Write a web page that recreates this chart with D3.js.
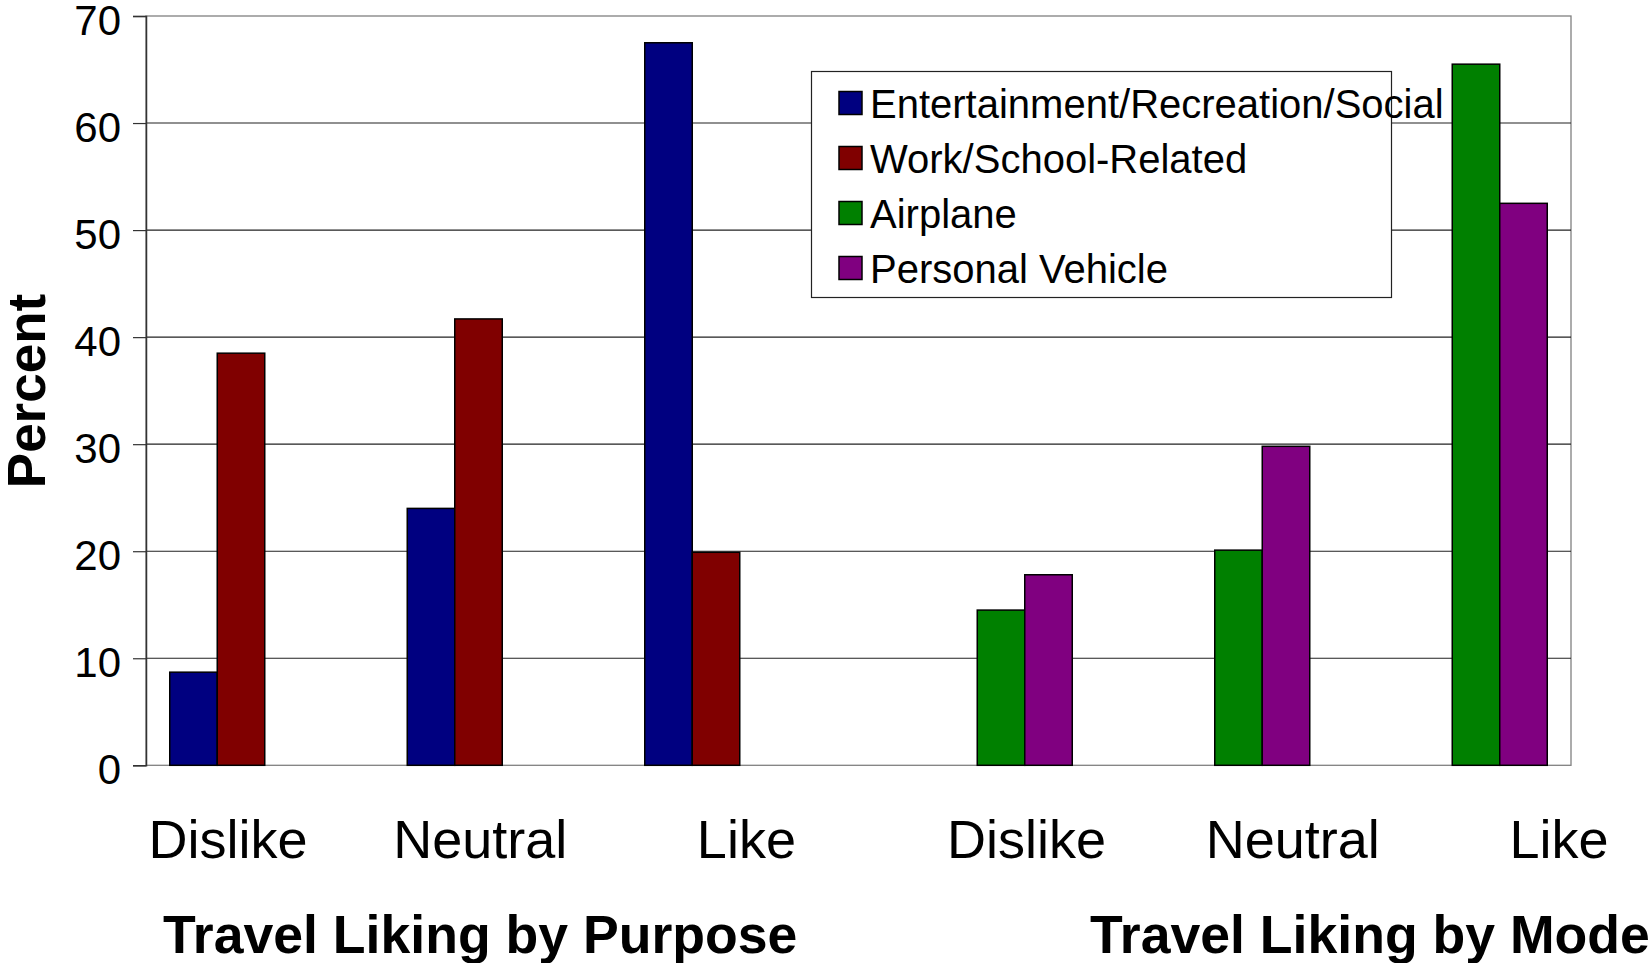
<!DOCTYPE html>
<html>
<head>
<meta charset="utf-8">
<script src="https://cdn.jsdelivr.net/npm/d3@7"></script>
<style>
  html, body { margin: 0; padding: 0; background: #fff; }
  svg { display: block; font-family: "Liberation Sans", Arial, Helvetica, sans-serif; }
</style>
</head>
<body>
<svg id="chart" width="1650" height="963"></svg>
<script>
// ---- data ----
const categories = ["Dislike", "Neutral", "Like", "Dislike", "Neutral", "Like"];
const seriesNames = ["Entertainment/Recreation/Social", "Work/School-Related", "Airplane", "Personal Vehicle"];
const entertainment = [8.7, 24.0, 67.5, null, null, null];
const workSchool = [38.5, 41.7, 19.9, null, null, null];
const airplane = [null, null, null, 14.5, 20.1, 65.5];
const personalVehicle = [null, null, null, 17.8, 29.8, 52.5];
const seriesColors = ["#000080", "#800000", "#008000", "#800080"];
const yTicks = [0, 10, 20, 30, 40, 50, 60, 70];
const groupTitles = ["Travel Liking by Purpose", "Travel Liking by Mode"];
const yTitle = "Percent";

// ---- layout ----
const svg = d3.select("#chart");
const plot = { left: 146, right: 1571, top: 16, bottom: 765.3 };
const seriesValues = [entertainment, workSchool, airplane, personalVehicle];
const labelNudge = [0, -14, -14, 0, 0, 0];

const x = d3.scaleBand().domain(d3.range(categories.length)).range([plot.left, plot.right]).padding(0);
const xs = d3.scaleBand().domain(d3.range(seriesNames.length)).range([0, x.bandwidth()])
  .paddingInner(0).paddingOuter(0.5);
const y = d3.scaleLinear().domain([0, 70]).range([plot.bottom, plot.top]);

// plot frame
svg.append("rect")
  .attr("x", plot.left).attr("y", plot.top)
  .attr("width", plot.right - plot.left).attr("height", plot.bottom - plot.top)
  .attr("fill", "#fff").attr("stroke", "#808080").attr("stroke-width", 1.3);

// gridlines
svg.append("g").selectAll("line").data(yTicks.filter(t => t > 0 && t < 70)).join("line")
  .attr("x1", plot.left).attr("x2", plot.right)
  .attr("y1", d => y(d)).attr("y2", d => y(d))
  .attr("stroke", "#222").attr("stroke-width", 1.1);

// y axis
const yAxis = d3.axisLeft(y).tickValues(yTicks).tickSize(13).tickPadding(12).tickFormat(d3.format("d"));
const gy = svg.append("g").attr("transform", `translate(${plot.left},0)`).call(yAxis);
gy.select(".domain").attr("stroke", "#333").attr("stroke-width", 1.5);
gy.selectAll(".tick line").attr("stroke", "#333").attr("stroke-width", 1.2);
gy.selectAll(".tick text").attr("font-size", 42).attr("fill", "#000")
  .attr("dy", "0.44em").style("font-family", "'Liberation Sans', Arial, sans-serif");

// bars
const barData = [];
seriesValues.forEach((vals, s) => vals.forEach((v, c) => { if (v != null) barData.push({ s, c, v }); }));
svg.append("g").selectAll("rect").data(barData).join("rect")
  .attr("x", d => x(d.c) + xs(d.s))
  .attr("width", xs.bandwidth())
  .attr("y", d => y(d.v))
  .attr("height", d => y(0) - y(d.v))
  .attr("fill", d => seriesColors[d.s])
  .attr("stroke", "#000").attr("stroke-width", 1.5);

// category labels
const xl = d3.scalePoint().domain(d3.range(categories.length)).range([228, 1559]);
svg.append("g").selectAll("text").data(categories).join("text")
  .attr("x", (d, i) => xl(i) + labelNudge[i]).attr("y", 858)
  .attr("text-anchor", "middle").attr("font-size", 54).attr("fill", "#000")
  .text(d => d);

// group titles
const titleX = d3.scalePoint().domain(d3.range(groupTitles.length)).range([163, 1090]);
svg.append("g").selectAll("text").data(groupTitles).join("text")
  .attr("x", (d, i) => titleX(i)).attr("y", 953)
  .attr("font-size", 53.6).attr("font-weight", "bold").attr("fill", "#000")
  .text(d => d);

// y title
svg.append("text")
  .attr("transform", "translate(45,391) rotate(-90)")
  .attr("text-anchor", "middle").attr("font-size", 53).attr("font-weight", "bold")
  .text(yTitle);

// legend
const lg = svg.append("g");
lg.append("rect").attr("x", 811.5).attr("y", 71.5).attr("width", 580).attr("height", 226)
  .attr("fill", "#fff").attr("stroke", "#222").attr("stroke-width", 1.2);
const ly = d3.scalePoint().domain(d3.range(seriesNames.length)).range([103, 268]);
const items = lg.selectAll("g.item").data(seriesNames).join("g").attr("class", "item")
  .attr("transform", (d, i) => `translate(0,${ly(i)})`);
items.append("rect").attr("x", 839).attr("y", -11.5).attr("width", 23).attr("height", 23)
  .attr("fill", (d, i) => seriesColors[i]).attr("stroke", "#000").attr("stroke-width", 1.5);
items.append("text").attr("x", 870).attr("y", 15).attr("font-size", 40).attr("fill", "#000")
  .text(d => d);
</script>
</body>
</html>
